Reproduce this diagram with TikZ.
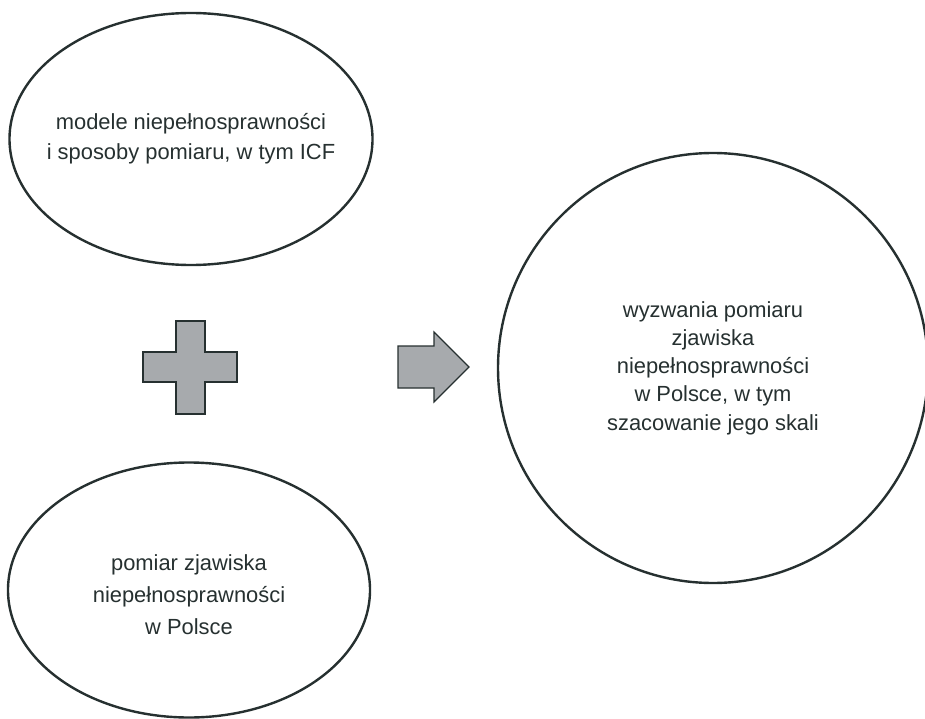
\documentclass[tikz,border=0pt]{standalone}
\usepackage{fontspec}
\setmainfont{Liberation Sans}
\usepackage{xcolor}
\usetikzlibrary{shapes.geometric}
\definecolor{inkdark}{RGB}{38,48,48}
\definecolor{signgray}{RGB}{167,170,173}
\tikzset{
  bubble/.style={draw=inkdark, line width=2.4pt, ellipse, inner sep=0pt},
  bubbletext/.style={align=center, text=inkdark, inner sep=0pt},
  sign/.style={fill=signgray, draw=inkdark, line width=1.1pt, line join=miter}
}
\begin{document}
\begin{tikzpicture}[x=1pt,y=-1pt]
\useasboundingbox (0,0) rectangle (925,719);
\node [bubble, minimum width=363pt, minimum height=252pt] (models) at (191,139) {};
\node [bubble, minimum width=362pt, minimum height=255pt] (poland) at (189,590) {};
\node [bubble, circle, minimum size=430pt] (challenges) at (713,368) {};
\node [bubbletext, font=\fontsize{21.9}{30}\selectfont] (modelstext) at (models.center)
  {modele niepełnosprawności\\i sposoby pomiaru, w tym ICF};
\node [bubbletext, font=\fontsize{21.9}{32}\selectfont] (polandtext) at ([yshift=-5pt]poland.center)
  {pomiar zjawiska\\niepełnosprawności\\w Polsce};
\node [bubbletext, font=\fontsize{21.9}{28.3}\selectfont] (challengestext) at (challenges.center)
  {wyzwania pomiaru\\zjawiska\\niepełnosprawności\\w Polsce, w tym\\szacowanie jego skali};
\draw [sign] (176,321) -- (205,321) -- (205,352) -- (237,352) -- (237,382) -- (205,382)
  -- (205,414) -- (176,414) -- (176,382) -- (143,382) -- (143,352) -- (176,352) -- cycle;
\draw [sign] (398,346) -- (434,346) -- (434,332) -- (469,367) -- (434,402) -- (434,388)
  -- (398,388) -- cycle;
\end{tikzpicture}
\end{document}
